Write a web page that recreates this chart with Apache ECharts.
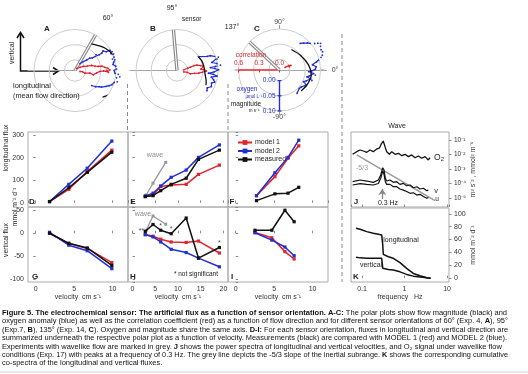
<!DOCTYPE html>
<html><head><meta charset="utf-8">
<script src="https://cdn.jsdelivr.net/npm/echarts@6/dist/echarts.min.js"></script>
<style>html,body{margin:0;padding:0;background:#fff}#c{width:528px;height:374px}</style>
</head><body><div id="c"></div>
<script>
// ================= DATA =================
// Polar plots A-C: [radius value, flow direction in degrees]
const sensorAngles = [60, 95, 137];
const magA = [[0.068,58],[0.077,47],[0.088,37],[0.096,28],[0.105,19],[0.110,10],[0.116,-1],[0.113,-10],[0.112,-19],[0.111,-26],[0.107,-32],[0.098,-39],[0.091,-44]];
const oxyA = [[-0.007,53],[0.005,47],[0.017,42],[0.028,40],[0.035,36],[0.045,35],[0.052,37],[0.060,33],[0.070,33],[0.078,35],[0.085,31],[0.098,30],[0.102,27],[0.096,25],[0.103,23],[0.101,19],[0.094,17],[0.101,15],[0.095,12],[0.092,9],[0.100,6],[0.102,2],[0.094,0],[0.097,-4],[0.108,-5],[0.114,-8],[0.104,-10],[0.109,-15],[0.100,-17],[0.095,-21],[0.088,-24],[0.080,-27],[0.068,-32],[0.060,-34],[0.052,-38],[0.039,-42]];
const corrA = [[0.04,50],[0.09,32],[0.135,26],[0.19,20],[0.255,17],[0.30,12],[0.345,10],[0.40,9],[0.44,6],[0.48,4],[0.51,1],[0.46,0],[0.49,-3],[0.42,-1],[0.366,-2],[0.32,-6],[0.275,-13],[0.22,-10],[0.15,-15],[0.11,-9],[0.075,-11]];
const magB = [[0.049,32],[0.053,20],[0.055,5],[0.059,-9],[0.068,-21],[0.072,-27]];
const oxyB = [[0.049,33],[0.075,25],[0.085,24],[0.108,18],[0.102,16],[0.083,13],[0.098,10],[0.109,7],[0.092,6],[0.075,5],[0.090,3],[0.102,1],[0.088,-2],[0.069,-5],[0.085,-6],[0.098,-8],[0.080,-11],[0.089,-14],[0.095,-17],[0.086,-20],[0.090,-25],[0.080,-30],[0.084,-34]];
const corrB = [[0.10,6],[0.16,12],[0.20,14],[0.26,16],[0.30,15],[0.35,12],[0.395,10],[0.35,3],[0.39,2],[0.43,-1],[0.37,-4],[0.32,-7],[0.26,-9],[0.20,-14],[0.15,-10],[0.10,-11]];
const magC = [[0.043,60],[0.049,36],[0.062,10],[0.071,-9],[0.068,-29],[0.064,-44]];
const oxyC = [[0.076,52],[0.084,48],[0.093,44],[0.099,41],[0.110,37],[0.119,35],[0.126,33],[0.121,30],[0.117,26],[0.119,23],[0.114,19],[0.108,17],[0.097,14],[0.090,12],[0.075,9],[0.086,5],[0.083,1],[0.070,-2],[0.061,-3],[0.078,-6],[0.084,-8],[0.066,-11],[0.058,-14],[0.072,-16],[0.077,-18],[0.060,-22],[0.053,-26],[0.066,-29],[0.065,-32],[0.056,-38],[0.054,-43],[0.061,-53]];
const corrC = [[0.09,25],[0.15,25],[0.18,22],[0.15,19]];
// tick labels of the C axes
const magTicksC = [0, 0.05, 0.10];
const corrTicksC = [0, 0.3, 0.6];

// Flux vs velocity (cm s-1), mmol m-2 d-1
const velD = [1.8, 4.3, 6.7, 9.9];
const m1D = [6, 60, 138, 233];
const m2D = [6, 82, 153, 273];
const measD = [6, 67, 135, 224];
const m1G = [0, -22, -33, -64];
const m2G = [2, -26, -38, -77];
const measG = [0, -22, -32, -70];

const velE = [2.8, 4.5, 6.2, 8.5, 11.8, 14.5, 19.1];
const m1E = [28, 35, 72, 79, 82, 126, 167];
const m2E = [31, 43, 75, 113, 145, 201, 256];
const measE = [28, 32, 54, 82, 109, 192, 233];
const m1H = [-3, -6.5, -13, -19, -20, -17, -43];
const m2H = [-3, -8, -19, -35, -42, -54, -73];
const measH = [4, 19, 6.5, -1, 33, -54, -31];
const starsH = ['**', '', '*', '*', '', '', '*'];
const waveVel = [3.0, 4.5, 7.3];
const waveE = [35, 87, 179];
const waveH = [6.5, 37.6, 19.6];

const velF = [2.7, 5.1, 6.8, 8.2];
const m1F = [32, 116, 197, 252];
const m2F = [32, 133, 201, 277];
const measF = [10, 40, 43, 69];
const velI = [2.5, 4.7, 6.4, 7.6];
const m1I = [1.5, -10, -40, -56];
const m2I = [1, -15, -30, -49];
const measI = [6.5, 6.5, 50, 25];

// J: power spectra (Hz)
const fO2 = [0.060,0.075,0.090,0.107,0.129,0.154,0.184,0.222,0.255,0.29,0.316,0.347,0.38,0.44,0.50,0.60,0.72,0.86,1.02,1.23,1.47,1.77,2.11,2.54,3.04,3.63,3.97];
const psdO2 = [0.0103,0.0156,0.0204,0.0174,0.0142,0.0204,0.0156,0.024,0.027,0.059,0.085,0.035,0.0156,0.0103,0.0156,0.0103,0.012,0.0083,0.0103,0.0071,0.0093,0.0060,0.0079,0.0055,0.0071,0.0042,0.006];
const fVel = [0.060,0.090,0.129,0.184,0.242,0.275,0.307,0.329,0.353,0.38,0.455,0.545,0.654,0.78,0.94,1.12,1.35,1.61,1.94,2.31,2.77,3.33,3.63];
const psdV = [1.33e-4,1.74e-4,1.48e-4,1.2e-4,1.74e-4,3.9e-4,1.23e-3,8.5e-4,2.3e-4,1.48e-4,1.74e-4,1.2e-4,1.33e-4,8.7e-5,1.02e-4,7.1e-5,7.9e-5,5.1e-5,6e-5,4.2e-5,4.7e-5,3.2e-5,3.5e-5];
const psdU = [7.9e-5,9.8e-5,8.7e-5,7.9e-5,1.0e-4,2.3e-4,7.2e-4,4.3e-4,1.33e-4,8.7e-5,8.7e-5,6e-5,6e-5,4.2e-5,3.5e-5,2.8e-5,2.1e-5,2.3e-5,1.6e-5,1.8e-5,1.26e-5,9.5e-6,1.1e-5];
const fSlope = [0.075, 5.2];
const slopeLine = [0.0093, 0.0000065];
const peakFreq = 0.3;

// K: cumulative co-spectra
const fK = [0.072,0.090,0.129,0.184,0.242,0.29,0.307,0.316,0.416,0.545,0.78,1.12,1.61,2.31,3.33,4.1];
const cumLong = [77.6,76,72.3,69.8,68.3,67.2,51.6,37,33.3,30.8,24,15.2,7.3,3.6,0.5,0];
const cumVert = [32.3,31.5,30.8,30.8,30.8,30.8,15.2,14.5,13.6,12.5,9.8,5.8,3.1,1.6,0.5,0];

// ================= STYLE =================
const RED = '#e2232b', BLUE = '#1f2fd2', BLACK = '#111', CIRC = '#cdcdcd', FRAME = '#ababab';
const FONT = '"Liberation Sans", Arial, sans-serif';
const hidden = {show: false};

// ================= POLAR =================
const centers = [[75, 70.5], [177, 70.5], [279.5, 70]];
const polar = [], angleAxis = [], radiusAxis = [], series = [];
const mags = [magA, magB, magC], oxys = [oxyA, oxyB, oxyC], corrs = [corrA, corrB, corrC];
const radMin = -0.035, radMax = 0.10, sensorEnd = 0.15;
const angStd = {min: -180, max: 180, startAngle: 180};
centers.forEach((c, i) => {
  const isC = i === 2;
  polar.push({center: c, radius: 41}, {center: c, radius: 41}, {center: c, radius: 47});
  const ang = isC ? {min: -90, max: 270, startAngle: 270} : angStd;
  angleAxis.push(Object.assign({polarIndex: 3*i, type: 'value', clockwise: false, interval: 90,
    axisLine: hidden, splitLine: hidden,
    axisTick: isC ? {show: true, length: 4, inside: false, lineStyle: {color: '#999'}} : hidden,
    axisLabel: isC ? {show: true, fontSize: 7, color: '#444', margin: 3, fontFamily: FONT,
      formatter: v => (v === 90 || v === -90) ? v + '°' : ''} : hidden}, ang));
  angleAxis.push(Object.assign({polarIndex: 3*i+1, type: 'value', clockwise: false,
    axisLine: hidden, axisTick: hidden, axisLabel: hidden, splitLine: hidden}, angStd));
  angleAxis.push({polarIndex: 3*i+2, type: 'value', min: 0, max: 360, startAngle: isC ? 0 : 180, clockwise: false,
    axisLine: hidden, axisTick: hidden, axisLabel: hidden, splitLine: hidden});
  radiusAxis.push({polarIndex: 3*i, type: 'value', min: radMin, max: radMax, splitNumber: 3,
    splitLine: {show: true, lineStyle: {color: CIRC, width: 1}},
    axisLine: hidden, axisTick: hidden, axisLabel: hidden, z: 1});
  radiusAxis.push({polarIndex: 3*i+1, type: 'value', min: 0, max: 0.6, interval: 0.3,
    splitLine: hidden,
    axisLine: isC ? {show: true, lineStyle: {color: RED, width: 1.5}} : hidden,
    axisTick: isC ? {show: true, length: 2.5, lineStyle: {color: RED}} : hidden,
    axisLabel: hidden, z: 2});
  radiusAxis.push({polarIndex: 3*i+2, type: 'value', min: 0, max: 1, splitLine: hidden,
    axisLine: {show: true, lineStyle: {color: '#a5a5a5', width: 1.2}}, axisTick: hidden, axisLabel: hidden, z: 0});

  series.push({type: 'line', coordinateSystem: 'polar', polarIndex: 3*i, clip: false, silent: true,
    data: [[radMin, sensorAngles[i]], [sensorEnd, sensorAngles[i]]], showSymbol: false,
    lineStyle: {color: '#8a8a8a', width: 3.4}, z: 2});
  series.push({type: 'line', coordinateSystem: 'polar', polarIndex: 3*i, clip: false, silent: true,
    data: [[radMin, sensorAngles[i]], [sensorEnd, sensorAngles[i]]], showSymbol: false,
    lineStyle: {color: '#fff', width: 1.1}, z: 2});
  series.push({type: 'line', coordinateSystem: 'polar', polarIndex: 3*i+1, clip: false, silent: true,
    data: corrs[i], symbol: 'circle', symbolSize: 1.8, showSymbol: true,
    lineStyle: {color: RED, width: 1.2}, itemStyle: {color: RED}, z: 3});
  series.push({type: 'line', coordinateSystem: 'polar', polarIndex: 3*i, clip: false, silent: true,
    data: oxys[i], symbol: 'circle', symbolSize: 1.8, showSymbol: true,
    lineStyle: {color: BLUE, width: 1.2}, itemStyle: {color: BLUE}, z: 3});
  series.push({type: 'line', coordinateSystem: 'polar', polarIndex: 3*i, clip: false, silent: true,
    data: mags[i], showSymbol: false, smooth: 0.3,
    lineStyle: {color: BLACK, width: 1.3}, z: 4});
});
// shared oxygen / magnitude axis of C (from 0.00 to 0.10, pointing to -90°)
series.push({type: 'line', coordinateSystem: 'polar', polarIndex: 6, clip: false, silent: true,
  data: magTicksC.map(v => [v, -90]), symbol: 'rect', symbolSize: [4, 1.2], showSymbol: true,
  lineStyle: {color: BLUE, width: 1.4}, itemStyle: {color: BLUE}, z: 3});

// ================= CARTESIAN =================
const grid = [
  {left: 28, top: 132, width: 100, height: 75},
  {left: 128, top: 132, width: 100, height: 75},
  {left: 228, top: 132, width: 100, height: 75},
  {left: 28, top: 207, width: 100, height: 75},
  {left: 128, top: 207, width: 100, height: 75},
  {left: 228, top: 207, width: 100, height: 75},
  {left: 351, top: 132, width: 98, height: 75},
  {left: 351, top: 208, width: 98, height: 74}
].map(g => Object.assign({show: true, borderColor: FRAME, borderWidth: 1, backgroundColor: 'transparent'}, g));

const lbl = {fontSize: 7, color: '#333', fontFamily: FONT};
function vx(gi, min, max, split, showLabel, name) {
  return {gridIndex: gi, type: 'value', min, max, splitNumber: split,
    axisLine: hidden, splitLine: hidden,
    axisTick: {show: true, inside: true, length: 2.5, lineStyle: {color: '#888'}},
    axisLabel: Object.assign({show: showLabel, margin: 4, showMinLabel: false, showMaxLabel: false}, lbl),
    name: name || '', nameLocation: 'middle', nameGap: 11, nameTextStyle: lbl};
}
function vy(gi, min, max, split, showLabel, inside) {
  return {gridIndex: gi, type: 'value', min, max, splitNumber: split,
    axisLine: hidden, splitLine: hidden,
    axisTick: {show: true, inside: inside, length: 2.5, lineStyle: {color: '#888'}},
    axisLabel: Object.assign({show: showLabel, margin: 4, showMinLabel: false, showMaxLabel: false}, lbl)};
}
const supMap = {'-': '⁻', '0': '⁰', '1': '¹', '2': '²', '3': '³', '4': '⁴', '5': '⁵', '6': '⁶', '7': '⁷', '8': '⁸', '9': '⁹'};
function decade(v) { const e = Math.log10(v), r = Math.round(e); return Math.abs(e - r) < 1e-3 ? r : null; }

const xAxis = [
  vx(0, -1, 12, 3, false), vx(1, -1, 21, 4, false), vx(2, -1, 12, 3, false),
  vx(3, -1, 12, 3, true, 'velocity  cm s⁻¹'), vx(4, -1, 21, 4, true, 'velocity  cm s⁻¹'), vx(5, -1, 12, 3, true, 'velocity  cm s⁻¹'),
  {gridIndex: 6, type: 'log', min: 0.055, max: 11.1, axisLine: hidden, splitLine: hidden,
    axisTick: {show: true, inside: true, length: 2.5, lineStyle: {color: '#888'}}, axisLabel: hidden},
  {gridIndex: 7, type: 'log', min: 0.055, max: 11.1, axisLine: hidden, splitLine: hidden,
    axisTick: {show: true, inside: true, length: 2.5, lineStyle: {color: '#888'}},
    axisLabel: Object.assign({show: true, margin: 4, showMinLabel: false, showMaxLabel: false,
      formatter: v => { const r = decade(v); return r === null ? '' : (r < 0 ? Math.pow(10, r).toFixed(-r) : String(Math.pow(10, r))); }}, lbl),
    name: 'frequency   Hz', nameLocation: 'middle', nameGap: 11, nameTextStyle: lbl}
];
const yAxis = [
  vy(0, -18, 313, 3, true, false), vy(1, -18, 313, 3, false, true), vy(2, -18, 313, 3, false, true),
  vy(3, -106, 57, 3, true, false), vy(4, -106, 57, 3, false, true), vy(5, -106, 57, 3, false, true),
  {gridIndex: 6, type: 'log', min: 2.4e-6, max: 0.355, position: 'right', axisLine: hidden, splitLine: hidden,
    axisTick: {show: true, inside: false, length: 2.5, lineStyle: {color: '#888'}},
    axisLabel: Object.assign({show: true, margin: 5, showMinLabel: false, showMaxLabel: false,
      formatter: v => { const r = decade(v); return r === null ? '' : '10' + String(r).split('').map(ch => supMap[ch]).join(''); }}, lbl, {fontSize: 6.5}),
    name: 'm² s⁻² , mmol² m⁻⁶', nameLocation: 'middle', nameRotate: 90, nameGap: 20, nameTextStyle: lbl},
  {gridIndex: 7, type: 'value', min: -6, max: 109, splitNumber: 5, position: 'right', axisLine: hidden, splitLine: hidden,
    axisTick: {show: true, inside: false, length: 2.5, lineStyle: {color: '#888'}},
    axisLabel: Object.assign({show: true, margin: 5, showMinLabel: false, showMaxLabel: false}, lbl),
    name: 'mmol m⁻² d⁻¹', nameLocation: 'middle', nameRotate: 90, nameGap: 20, nameTextStyle: lbl}
];

const zip = (xs, ys) => xs.map((x, k) => [x, ys[k]]);
function fluxSeries(ai, vel, m1, m2, meas) {
  const base = {type: 'line', xAxisIndex: ai, yAxisIndex: ai, symbol: 'rect', symbolSize: 3.2, showSymbol: true, silent: true, clip: false};
  return [
    Object.assign({name: 'model 1', data: zip(vel, m1), lineStyle: {color: RED, width: 1.5}, itemStyle: {color: RED}, z: 3}, base),
    Object.assign({name: 'model 2', data: zip(vel, m2), lineStyle: {color: BLUE, width: 1.5}, itemStyle: {color: BLUE}, z: 4}, base),
    Object.assign({name: 'measured', data: zip(vel, meas), lineStyle: {color: BLACK, width: 1.5}, itemStyle: {color: BLACK}, z: 5}, base)
  ];
}
series.push(...fluxSeries(0, velD, m1D, m2D, measD));
series.push(...fluxSeries(1, velE, m1E, m2E, measE));
series.push(...fluxSeries(2, velF, m1F, m2F, measF));
series.push(...fluxSeries(3, velD, m1G, m2G, measG));
series.push(...fluxSeries(4, velE, m1H, m2H, measH));
series.push(...fluxSeries(5, velI, m1I, m2I, measI));
[[1, waveE], [4, waveH]].forEach(([ai, vals]) => series.push({type: 'line', xAxisIndex: ai, yAxisIndex: ai, silent: true,
  data: zip(waveVel, vals), symbol: 'rect', symbolSize: 3, lineStyle: {color: '#999', width: 1.3}, itemStyle: {color: '#999'}, z: 2}));
series.push({type: 'scatter', xAxisIndex: 4, yAxisIndex: 4, silent: true, symbolSize: 0, z: 6,
  data: velE.map((v, k) => ({value: [v, measH[k]], label: {show: starsH[k] !== '', formatter: starsH[k],
    position: k === 0 ? 'left' : 'top', distance: 1, fontSize: 7, color: '#222', fontFamily: FONT}}))});

// J spectra
const jl = {type: 'line', xAxisIndex: 6, yAxisIndex: 6, showSymbol: false, silent: true};
series.push(Object.assign({data: zip(fSlope, slopeLine), lineStyle: {color: '#9a9a9a', width: 1.5}, z: 2}, jl));
series.push(Object.assign({data: zip(fO2, psdO2), lineStyle: {color: BLACK, width: 1.3}, z: 3}, jl));
series.push(Object.assign({data: zip(fVel, psdU), lineStyle: {color: BLACK, width: 1.2}, z: 3}, jl));
series.push(Object.assign({data: zip(fVel, psdV), lineStyle: {color: BLACK, width: 1.2}, z: 3,
  markLine: {silent: true, symbol: ['none', 'arrow'], symbolSize: 6, label: hidden,
    lineStyle: {color: '#888', width: 1.3, type: 'solid'},
    data: [[{coord: [peakFreq, 8.5e-6]}, {coord: [peakFreq, 4.2e-5]}]]}}, jl));
// K cumulative
const kl = {type: 'line', xAxisIndex: 7, yAxisIndex: 7, showSymbol: false, silent: true};
series.push(Object.assign({data: zip(fK, cumLong), lineStyle: {color: BLACK, width: 1.5}}, kl));
series.push(Object.assign({data: zip(fK, cumVert), lineStyle: {color: BLACK, width: 1.5}}, kl));

// ================= GRAPHIC (text annotations, separators, caption) =================
const graphic = [];
function txt(t, x, y, o) {
  o = o || {};
  graphic.push({type: 'text', x, y, rotation: o.rot || 0, z: 10, silent: true,
    style: {text: t, fill: o.color || '#222', fontSize: o.size || 7, fontWeight: o.bold ? 'bold' : 'normal',
      fontFamily: FONT, align: o.align || 'center', verticalAlign: 'middle'}});
}
graphic.push({type: 'polyline', silent: true, shape: {points: [[20.5, 34], [20.5, 71], [57, 71]]}, style: {stroke: '#111', lineWidth: 1.5, fill: null}});
graphic.push({type: 'polyline', silent: true, shape: {points: [[17, 38], [20.5, 32.5], [24, 38]]}, style: {stroke: '#111', lineWidth: 1.5, fill: null}});
graphic.push({type: 'polyline', silent: true, shape: {points: [[53, 67.5], [58.5, 71], [53, 74.5]]}, style: {stroke: '#111', lineWidth: 1.5, fill: null}});
[[127.5, 84, 132], [228, 84, 132], [342, 34, 282]].forEach(([x, y1, y2]) =>
  graphic.push({type: 'line', silent: true, shape: {x1: x, y1, x2: x, y2}, style: {stroke: '#8a8a8a', lineWidth: 1, lineDash: [4, 3]}}));
graphic.push({type: 'line', silent: true, shape: {x1: 0, y1: 372, x2: 528, y2: 372}, style: {stroke: '#cfcfcf', lineWidth: 1}});

txt('vertical', 12.5, 53, {rot: Math.PI / 2});
txt('longitudinal', 13, 86, {align: 'left', size: 7.5});
txt('(mean flow direction)', 13, 96, {align: 'left', size: 7.2});
txt('A', 47, 29, {bold: true, size: 8});
txt('B', 153, 29, {bold: true, size: 8});
txt('C', 257, 29, {bold: true, size: 8});
txt('60°', 108, 18, {size: 7});
txt('95°', 172, 8, {size: 7});
txt('sensor', 182, 19, {align: 'left', size: 6.5});
txt('137°', 232, 27, {size: 7});
txt('0°', 335, 70, {size: 7, color: '#444'});
txt('correlation', 251, 55, {color: RED, size: 6.5});
txt('oxygen', 247, 89, {color: BLUE, size: 6.5});
txt('µmol L⁻¹', 254, 96.5, {color: BLUE, size: 4.5});
txt('magnitude', 246, 104, {size: 6.5});
txt('m s⁻¹', 254, 110.5, {size: 4.5});
[['D', 32, 202], ['E', 133, 202], ['F', 232, 202], ['G', 35, 277], ['H', 133, 277], ['I', 232, 277], ['J', 356, 202], ['K', 356, 277]]
  .forEach(([t, x, y]) => txt(t, x, y, {bold: true, size: 8}));
txt('longitudinal flux', 6, 148, {rot: Math.PI / 2, size: 6.8});
txt('mmol m⁻² d⁻¹', 15, 207, {rot: Math.PI / 2, size: 6.8});
txt('vertical flux', 6, 240, {rot: Math.PI / 2, size: 6.8});
txt('wave', 155, 155, {color: '#8c8c8c', size: 7});
txt('wave', 143, 214, {color: '#8c8c8c', size: 7});
txt('* not significant', 218, 274, {align: 'right', size: 6.5});
txt('Wave', 397, 126, {size: 7});
txt('O₂', 439, 158, {size: 8.5});
txt('v', 436, 191, {size: 7.5});
txt('u', 437, 199, {size: 6.5});
txt('-5/3', 362, 168, {color: '#999', size: 7});
txt('0.3 Hz', 388, 203.5, {size: 7});
txt('longitudinal', 401, 240, {size: 7});
txt('vertical', 371, 265, {size: 7});

const capLines = [
  [['b', 'Figure 5. The electrochemical sensor: The artificial flux as a function of sensor orientation. A-C:'], ['n', ' The polar plots show flow magnitude (black) and']],
  [['n', 'oxygen anomaly (blue) as well as the correlation coefficient (red) as a function of flow direction and for different sensor orientations of 60° (Exp. 4, '], ['b', 'A'], ['n', '), 95°']],
  [['n', '(Exp.7, '], ['b', 'B'], ['n', '), 135° (Exp. 14, '], ['b', 'C'], ['n', '). Oxygen and magnitude share the same axis. '], ['b', 'D-I:'], ['n', ' For each sensor orientation, fluxes in longitudinal and vertical direction are']],
  [['n', 'summarized underneath the respective polar plot as a function of velocity. Measurements (black) are compared with MODEL 1 (red) and MODEL 2 (blue).']],
  [['n', 'Experiments with wavelike flow are marked in grey. '], ['b', 'J'], ['n', ' shows the power spectra of longitudinal and vertical velocities, and O₂ signal under wavelike flow']],
  [['n', 'conditions (Exp. 17) with peaks at a frequency of 0.3 Hz. The grey line depicts the -5/3 slope of the inertial subrange. '], ['b', 'K'], ['n', ' shows the corresponding cumulative']],
  [['n', 'co-spectra of the longitudinal and vertical fluxes.']]
];
const capTarget = [505, 506, 506, 505, null, 506, null];
const capFS = 7, capY0 = 313, capDY = 8.4;
const ctx = document.createElement('canvas').getContext('2d');
function segW(s) { ctx.font = (s[0] === 'b' ? 'bold ' : '') + capFS + 'px ' + FONT; return ctx.measureText(s[1]).width; }
const lineW = segs => segs.reduce((a, s) => a + segW(s), 0);
const baseScale = capTarget[0] / lineW(capLines[0]);
capLines.forEach((segs, i) => {
  const sc = capTarget[i] ? capTarget[i] / lineW(segs) : baseScale;
  graphic.push({type: 'text', x: 2, y: capY0 + i * capDY, scaleX: sc, originX: 0, originY: 0, silent: true, z: 10,
    style: {text: segs.map(s => '{' + s[0] + '|' + s[1] + '}').join(''), verticalAlign: 'middle', align: 'left',
      rich: {b: {fontWeight: 'bold', fontSize: capFS, fontFamily: FONT, fill: '#111'},
             n: {fontWeight: 'normal', fontSize: capFS, fontFamily: FONT, fill: '#111'}}}});
});

const option = {
  animation: false,
  backgroundColor: '#fff',
  textStyle: {fontFamily: FONT},
  polar, angleAxis, radiusAxis, grid, xAxis, yAxis, series, graphic,
  legend: {data: ['model 1', 'model 2', 'measured'], left: 237, top: 139, orient: 'vertical', padding: 0, z: 20,
    itemWidth: 14, itemHeight: 6, itemGap: 1.5, selectedMode: false,
    textStyle: {fontSize: 7, color: '#222', fontFamily: FONT, padding: [0, 0, 0, -2]}}
};
const chart = echarts.init(document.getElementById('c'), null, {renderer: 'canvas'});
chart.setOption(option);

// C axis tick labels, placed through the polar scales
const axisLabels = [];
magTicksC.forEach(v => {
  const p = chart.convertToPixel({polarIndex: 6}, [v, -90]);
  axisLabels.push({type: 'text', x: p[0] - 4, y: p[1], silent: true, z: 10,
    style: {text: v.toFixed(2), fill: BLUE, fontSize: 6.5, fontFamily: FONT, align: 'right', verticalAlign: 'middle'}});
});
corrTicksC.forEach(v => {
  const p = chart.convertToPixel({polarIndex: 7}, [v, 180]);
  axisLabels.push({type: 'text', x: p[0], y: p[1] - 6.5, silent: true, z: 10,
    style: {text: v.toFixed(1), fill: RED, fontSize: 6.5, fontFamily: FONT, align: 'center', verticalAlign: 'middle'}});
});
chart.setOption({graphic: graphic.concat(axisLabels)});
</script></body></html>
